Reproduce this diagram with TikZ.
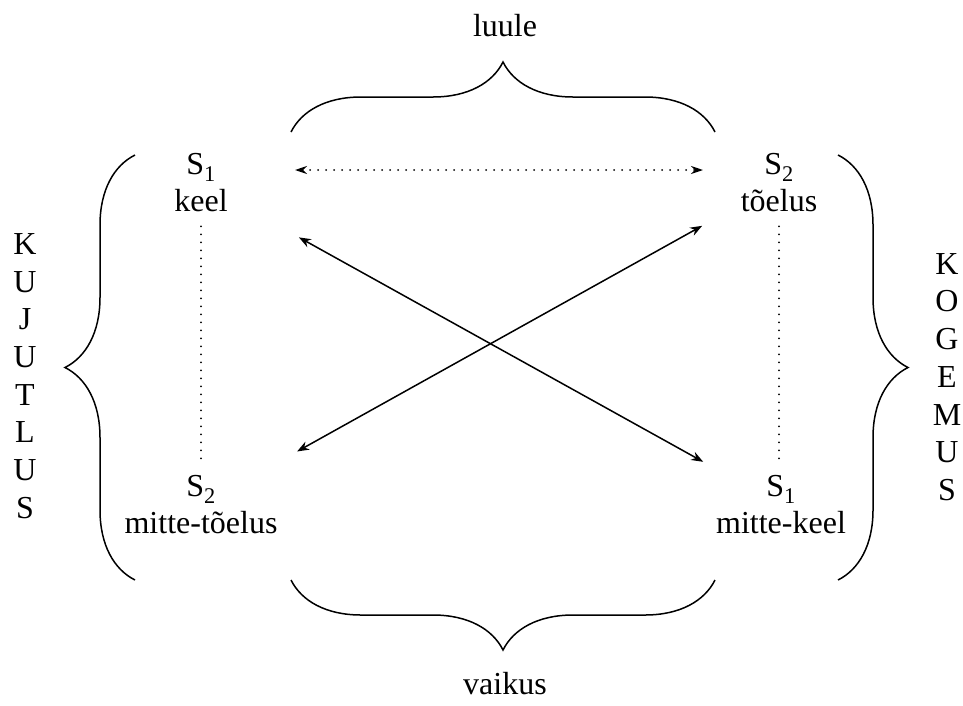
\documentclass[tikz,border=0pt]{standalone}
\usepackage{fontspec}
\setmainfont{Liberation Serif}
\usetikzlibrary{arrows.meta,calc,decorations.pathreplacing}

\tikzset{
    term/.style={align=center, inner sep=0pt, font=\fontsize{32}{37}\selectfont},
    column/.style={align=center, inner sep=0pt, font=\fontsize{32}{37.7}\selectfont},
    bigbrace/.style={decorate, decoration={brace, amplitude=70pt}, line width=1.5pt},
    link/.style={{Stealth[length=12pt,width=9pt]}-{Stealth[length=12pt,width=9pt]}, line width=1.5pt},
    dots/.style={line width=2pt, dash pattern=on 0pt off 8pt, line cap=round}
}

\begin{document}
\begin{tikzpicture}[x=1pt, y=-1pt]
    \useasboundingbox (0,0) rectangle (963,705);
    % corners
    \node[term] (tl) at (201,183) {S\textsubscript{1}\\keel};
    \node[term] (tr) at (779,183) {S\textsubscript{2}\\tõelus};
    \node[term] (bl) at (201,505) {S\textsubscript{2}\\mitte-tõelus};
    \node[term] (br) at (781,505) {S\textsubscript{1}\\mitte-keel};
    % brace labels
    \node[term] (luule) at (505,26) {luule};
    \node[term] (vaikus) at (505,684) {vaikus};
    \node[column] (kujutlus) at (25,376) {K\\U\\J\\U\\T\\L\\U\\S};
    \node[column] (kogemus) at (947,377) {K\\O\\G\\E\\M\\U\\S};
    % braces
    \draw[bigbrace] (291,132) -- (715,132);
    \draw[bigbrace] (715,580) -- (291,580);
    \draw[bigbrace] (135,580) -- (135,155);
    \draw[bigbrace] (838,155) -- (838,580);
    % connectors
    \draw[dots, shorten <=14pt, shorten >=12pt] (tl) -- (bl);
    \draw[dots, shorten <=14pt, shorten >=12pt] (tr) -- (tr |- br.north);
    \draw[dots, {Stealth[length=12pt,width=8pt]}-{Stealth[length=12pt,width=8pt]}, shorten <=94pt, shorten >=76pt]
        ($(tl.center)+(0,-13)$) -- ($(tr.center)+(0,-13)$);
    \draw[link, shorten <=112pt, shorten >=89pt] (tl.center) -- (br.center);
    \draw[link, shorten <=110pt, shorten >=88pt] (bl.center) -- (tr.center);
\end{tikzpicture}
\end{document}
